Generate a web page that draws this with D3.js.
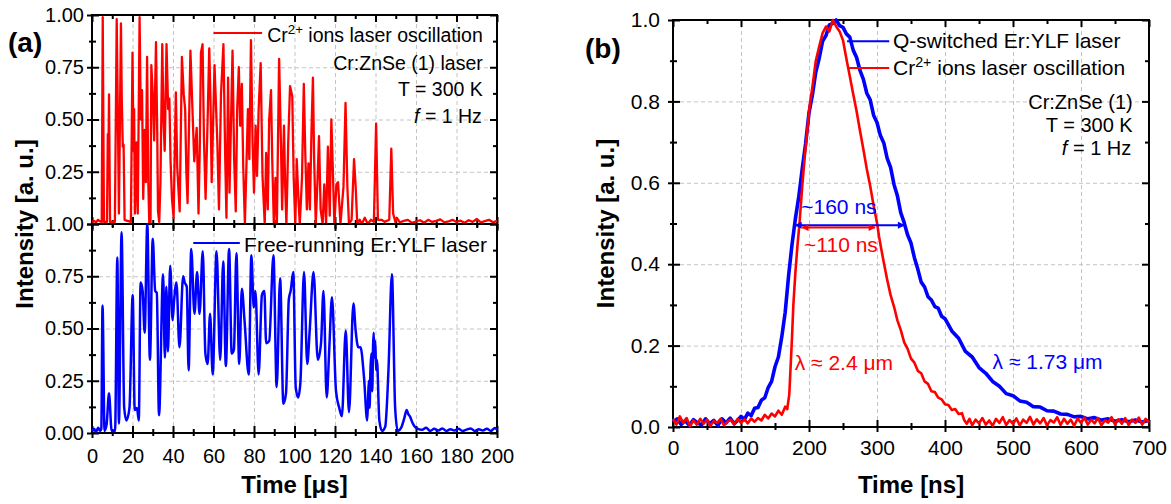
<!DOCTYPE html>
<html>
<head>
<meta charset="utf-8">
<script src="https://cdn.jsdelivr.net/npm/d3@7"></script>
<style>
  body { margin: 0; background: #fff; }
  text { font-family: "Liberation Sans", Arial, sans-serif; }
  .grid line { stroke: #c4c4c4; stroke-width: 1; stroke-dasharray: 4,3; }
  .grid path { display: none; }
  .ax path { display: none; }
  .ax line { stroke: #000; stroke-width: 2; }
  .ax text { fill: #000; font-family: "Liberation Sans", Arial, sans-serif; }
  .pa .ax text { font-size: 20px; }
  .pb .ax text { font-size: 21px; }
</style>
</head>
<body>
<svg id="chart" width="1171" height="504"></svg>
<script>
// ---- data ----
// (a) top: Cr2+ laser oscillation, time [us] / intensity
var crOsc = [[0,0.01],[1,0.015],[2,0.008],[3,0.02],[4,0.012],[4.8,0.01],[5.3,0.99],[5.9,0.01],[7.4,0.01],[7.8,0.43],[8.1,0.3],[8.4,0.62],[8.9,0.01],
  [11.3,0.01],[12.2,0.98],[12.8,0.5],[13.3,0.05],[14.3,0.96],[14.7,0.6],[15.2,0.37],[15.6,0.38],[16.1,0.02],[17.5,0.015],[19.2,0.01],
  [20.0,0.82],[20.5,0.35],[20.8,0.55],[21.2,0.05],[22.0,0.39],[22.6,0.05],[23.5,0.99],[24.1,0.5],[24.7,0.64],[25.3,0.12],[26.0,0.45],
  [26.6,0.2],[27.2,0.8],[27.8,0.2],[28.3,0.0],[28.9,0.0],[29.3,0.76],[30.1,0.6],[30.7,0.4],[31.6,0.87],[32.2,0.45],[32.6,0.06],[33.2,0.01],
  [33.8,0.2],[34.7,0.86],[35.3,0.5],[35.9,0.35],[36.8,0.86],[37.6,0.55],[38.2,0.6],[38.8,0.3],[39.5,0.12],[40.3,0.03],[41.4,0.63],[42.1,0.27],
  [43.3,0.06],[44.4,0.8],[45.3,0.62],[46.0,0.55],[46.6,0.25],[47.2,0.1],[48.6,0.83],[49.6,0.55],[50.5,0.3],[51.7,0.46],[52.6,0.05],[53.2,0.35],
  [53.8,0.82],[54.6,0.86],[55.3,0.4],[56.1,0.12],[57.1,0.5],[57.9,0.84],[58.5,0.6],[59.1,0.2],[60.5,0.76],[61.9,0.39],[62.7,0.07],[63.7,0.62],
  [64.9,0.86],[65.8,0.31],[66.4,0.03],[67.2,0.7],[67.9,0.15],[69.4,0.83],[70.2,0.31],[71.0,0.06],[71.7,0.55],[72.5,0.75],[73.2,0.47],[74.0,0.67],
  [74.7,0.27],[75.5,0.0],[77.0,0.55],[77.7,0.31],[78.5,0.88],[79.3,0.39],[80.0,0.15],[80.8,0.47],[81.5,0.23],[82.3,0.55],[83.3,0.77],[84.2,0.23],
  [85.3,0.0],[86.0,0.34],[86.8,0.07],[87.5,0.5],[88.4,0.64],[89.0,0.31],[89.8,0.0],[90.6,0.22],[91.3,0.0],[92.4,0.79],[93.3,0.39],[93.9,0.07],
  [94.8,0.47],[95.4,0.18],[96.0,0.0],[96.9,0.39],[97.8,0.66],[98.9,0.61],[99.6,0.22],[100.4,0.0],[101.1,0.31],[101.9,0.13],[102.6,0.0],
  [103.7,0.22],[104.6,0.67],[105.3,0.35],[106.1,0.07],[106.9,0.29],[107.6,0.07],[108.4,0.45],[109.1,0.7],[109.7,0.31],[110.5,0.0],[111.4,0.22],
  [112.1,0.42],[112.9,0.07],[113.9,0.0],[114.7,0.19],[115.6,0.0],[116.5,0.37],[117.4,0.04],[118.2,0.5],[118.9,0.27],[119.7,0.0],[120.7,0.19],
  [121.5,0.2],[122.7,0.0],[124.2,0.18],[125.2,0.58],[126.1,0.18],[126.9,0.0],[128.2,0.02],[129.4,0.31],[130.2,0.18],[131.0,0.0],[132.2,0.02],
  [133.2,0.0],[134.7,0.03],[136.2,0.0],[137.7,0.02],[139.2,0.01],[140.3,0.48],[141.2,0.02],[143.0,0.02],[144.5,0.01],[146.8,0.02],[147.8,0.36],
  [148.7,0.05],[149.8,0.01],[150.5,0.03],[152,0.008],[154,0.015],[156,0.02],[158,0.005],[160,0.012],[162,0.018],[164,0.006],[166,0.02],
  [168,0.01],[170,0.015],[172,0.022],[174,0.008],[176,0.012],[178,0.02],[180,0.01],[182,0.016],[184,0.006],[186,0.018],[188,0.01],
  [190,0.024],[192,0.008],[194,0.014],[196,0.02],[198,0.008],[200,0.015]];

// (a) bottom: free-running Er:YLF laser
var erFree = [[0,0.01],[1,0.02],[2,0.005],[3,0.025],[4,0.01],[4.6,0.02],[5.2,0.61],[6.2,0.01],[7.2,0.04],[8.4,0.19],[9.7,0.01],[11.4,0.01],
  [12.5,0.84],[13.3,0.045],[14.6,0.96],[15.9,0.12],[17.0,0.06],[18.5,0.12],[20.1,0.66],[21.1,0.11],[22.2,0.12],[23.1,0.06],[24.0,0.72],
  [25.0,0.68],[26.0,0.48],[27.3,1.0],[28.6,0.35],[30.0,0.93],[31.2,0.68],[32.0,0.67],[33.1,0.085],[35.1,0.76],[36.0,0.36],[36.7,0.7],
  [37.5,0.39],[38.6,0.8],[39.8,0.54],[40.6,0.64],[41.7,0.72],[43.2,0.41],[45.0,0.75],[45.8,0.72],[46.8,0.7],[47.7,0.3],[49.0,0.88],[50.6,0.57],
  [51.9,0.77],[53.1,0.57],[54.7,0.87],[56.0,0.38],[57.1,0.33],[58.3,0.57],[59.6,0.28],[61.5,0.87],[63.3,0.35],[64.8,0.82],[66.1,0.32],
  [67.7,0.88],[69.0,0.38],[70.1,0.4],[71.3,0.86],[72.7,0.33],[74.0,0.69],[75.3,0.54],[77.4,0.28],[78.7,0.85],[79.9,0.6],[80.7,0.68],[82.3,0.28],
  [83.9,0.66],[85.1,0.68],[86.0,0.43],[87.5,0.44],[89.6,0.85],[91.2,0.22],[92.9,0.74],[94.5,0.14],[95.8,0.19],[97.2,0.64],[98.1,0.68],
  [99.4,0.77],[100.6,0.22],[101.8,0.17],[102.9,0.24],[104.7,0.77],[106.3,0.33],[107.5,0.49],[109.4,0.77],[111.5,0.35],[113.1,0.43],
  [114.3,0.68],[115.9,0.17],[117.2,0.41],[118.5,0.65],[120.5,0.2],[122.1,0.12],[123.4,0.08],[125.3,0.49],[126.9,0.1],[129.1,0.62],[130.2,0.49],
  [131.5,0.41],[132.6,0.41],[134.3,0.27],[135.9,0.06],[136.3,0.15],[136.7,0.25],[137.1,0.12],[137.5,0.3],[138.0,0.38],[138.4,0.2],[138.8,0.42],
  [139.1,0.48],[139.5,0.36],[139.9,0.44],[140.3,0.3],[140.7,0.35],[141.9,0.06],[143.2,0.01],[144.8,0.03],[146.4,0.3],[148.1,0.76],[149.7,0.12],
  [151.0,0.01],[152.9,0.03],[154.2,0.07],[155.4,0.11],[156.2,0.09],[157.0,0.08],[158.2,0.05],[159.4,0.03],[161,0.02],[163,0.015],[165,0.025],
  [167,0.01],[169,0.02],[171,0.012],[173,0.022],[175,0.01],[177,0.018],[179,0.012],[181,0.02],[183,0.01],[185,0.016],[187,0.022],[189,0.01],
  [191,0.018],[193,0.012],[195,0.02],[197,0.01],[199,0.024],[200,0.015]];

// (b) Q-switched Er:YLF pulse, time [ns] / intensity
var qsPulse = [[0,0.012],[6,0.02],[12,0.006],[18,0.016],[24,0.004],[30,0.018],[36,0.01],[42,0.005],[48,0.02],[54,0.008],[60,0.016],[66,0.004],
  [72,0.02],[78,0.01],[84,0.022],[90,0.008],[96,0.018],[100,0.026],[105,0.018],[110,0.034],[115,0.028],[120,0.046],[125,0.048],[130,0.066],
  [135,0.072],[140,0.097],[145,0.112],[150,0.148],[155,0.172],[160,0.222],[165,0.282],[170,0.372],[175,0.448],[180,0.512],[185,0.566],
  [190,0.634],[195,0.696],[200,0.772],[205,0.816],[210,0.872],[215,0.906],[220,0.948],[225,0.962],[230,0.988],[235,0.992],[240,1.0],
  [245,0.986],[250,0.982],[255,0.966],[260,0.958],[265,0.926],[270,0.908],[275,0.876],[280,0.854],[285,0.82],[290,0.804],[295,0.766],
  [300,0.748],[305,0.716],[310,0.698],[315,0.66],[320,0.638],[325,0.596],[330,0.568],[335,0.526],[340,0.502],[345,0.472],[350,0.452],
  [355,0.416],[360,0.388],[365,0.356],[370,0.344],[375,0.32],[380,0.312],[385,0.296],[390,0.292],[395,0.272],[400,0.266],[410,0.236],
  [420,0.218],[430,0.186],[440,0.172],[450,0.146],[460,0.132],[470,0.112],[480,0.1],[490,0.082],[500,0.077],[510,0.064],[520,0.061],
  [530,0.05],[540,0.049],[550,0.04],[560,0.039],[570,0.032],[580,0.031],[590,0.025],[600,0.026],[610,0.02],[620,0.023],[630,0.017],
  [640,0.02],[650,0.014],[660,0.018],[670,0.013],[680,0.017],[690,0.012],[700,0.016]];

// (b) Cr2+ laser pulse
var crPulse = [[0,0.02],[5,0.006],[10,0.026],[15,0.01],[20,0.022],[25,0.002],[30,0.016],[35,0.006],[40,0.02],[45,0.008],[50,0.018],[55,0.003],
  [60,0.015],[65,0.01],[70,0.02],[75,0.004],[80,0.013],[85,0.018],[90,0.006],[95,0.02],[100,0.01],[105,0.019],[110,0.009],[115,0.021],
  [120,0.013],[125,0.022],[130,0.016],[135,0.03],[140,0.021],[145,0.033],[150,0.026],[155,0.04],[160,0.03],[165,0.05],[168,0.044],[171,0.08],
  [173,0.15],[175,0.22],[177,0.3],[180,0.38],[183,0.445],[186,0.5],[190,0.59],[193,0.65],[197,0.72],[201,0.79],[205,0.835],[210,0.9],
  [215,0.935],[220,0.968],[225,0.984],[230,0.972],[235,1.0],[240,0.984],[245,0.972],[250,0.95],[255,0.905],[260,0.862],[265,0.818],
  [270,0.776],[275,0.728],[280,0.682],[285,0.634],[290,0.592],[295,0.544],[300,0.502],[303,0.468],[306,0.44],[310,0.404],[315,0.362],
  [320,0.324],[325,0.296],[330,0.262],[335,0.238],[340,0.208],[345,0.192],[350,0.168],[355,0.158],[360,0.138],[365,0.132],[370,0.112],
  [375,0.106],[380,0.088],[385,0.086],[390,0.072],[395,0.068],[400,0.056],[405,0.054],[410,0.042],[415,0.044],[420,0.032],[425,0.034],
  [428,0.018],[432,0.008],[436,0.02],[440,0.004],[445,0.018],[450,0.009],[455,0.022],[460,0.006],[465,0.016],[470,0.003],[475,0.02],
  [480,0.01],[485,0.024],[490,0.005],[495,0.017],[500,0.008],[505,0.021],[510,0.004],[515,0.018],[520,0.01],[525,0.025],[530,0.006],
  [535,0.019],[540,0.009],[545,0.022],[550,0.004],[555,0.017],[560,0.011],[565,0.024],[570,0.005],[575,0.02],[580,0.008],[585,0.018],
  [590,0.003],[595,0.021],[600,0.01],[605,0.023],[610,0.006],[615,0.018],[620,0.009],[625,0.022],[630,0.004],[635,0.016],[640,0.011],
  [645,0.024],[650,0.006],[655,0.019],[660,0.008],[665,0.022],[670,0.005],[675,0.018],[680,0.01],[685,0.023],[690,0.006],[695,0.02],[700,0.012]];

// ticks
var xMajorA = [0,20,40,60,80,100,120,140,160,180,200];
var xMinorA = [10,30,50,70,90,110,130,150,170,190];
var yMajorA = [0,0.25,0.5,0.75,1];
var yMinorA = [0.125,0.375,0.625,0.875];
var xMajorB = [0,100,200,300,400,500,600,700];
var xMinorB = [50,150,250,350,450,550,650];
var yMajorB = [0,0.2,0.4,0.6,0.8,1];
var yMinorB = [0.1,0.3,0.5,0.7,0.9];

// pulse widths (ns) marked in panel b
var fwhmQs = [180, 340], fwhmCr = [190, 297];

var red = "#ff0000", blue = "#0000ff";
var svg = d3.select("#chart");

// arrow heads
var defs = svg.append("defs");
[["arB", blue], ["arR", red]].forEach(function(a) {
  defs.append("marker").attr("id", a[0]).attr("viewBox", "0 0 10 10")
    .attr("refX", 9).attr("refY", 5).attr("markerWidth", 9).attr("markerHeight", 7)
    .attr("markerUnits", "userSpaceOnUse").attr("orient", "auto-start-reverse")
    .append("path").attr("d", "M0,0 L10,5 L0,10 z").attr("fill", a[1]);
});

function frame(g, x, y, o) {
  var w = x.range()[1], h = y.range()[0];
  var xd = x.domain(), yd = y.domain();
  var xIn = o.xMajor.filter(function(v) { return v > xd[0] && v < xd[1]; });
  var yIn = o.yMajor.filter(function(v) { return v > yd[0] && v < yd[1]; });
  g.append("g").attr("class", "grid").attr("transform", "translate(0," + h + ")")
    .call(d3.axisBottom(x).tickValues(xIn).tickSize(-h).tickFormat(""));
  g.append("g").attr("class", "grid")
    .call(d3.axisLeft(y).tickValues(yIn).tickSize(-w).tickFormat(""));

  function put(axis, tx, ty) {
    g.append("g").attr("class", "ax").attr("transform", "translate(" + tx + "," + ty + ")").call(axis);
  }
  // bottom: labels + in/out ticks
  put(d3.axisBottom(x).tickValues(o.xMajor).tickSize(5).tickPadding(o.xPad)
      .tickFormat(o.xLabels ? d3.format("d") : ""), 0, h);
  put(d3.axisBottom(x).tickValues(o.xMajor).tickSize(-7).tickFormat(""), 0, h);
  put(d3.axisBottom(x).tickValues(o.xMinor).tickSize(3).tickFormat(""), 0, h);
  put(d3.axisBottom(x).tickValues(o.xMinor).tickSize(-4).tickFormat(""), 0, h);
  // top: inward only
  put(d3.axisTop(x).tickValues(o.xMajor).tickSize(-7).tickFormat(""), 0, 0);
  put(d3.axisTop(x).tickValues(o.xMinor).tickSize(-4).tickFormat(""), 0, 0);
  // left
  put(d3.axisLeft(y).tickValues(o.yMajor).tickSize(5).tickPadding(o.yPad).tickFormat(o.yFmt), 0, 0);
  put(d3.axisLeft(y).tickValues(o.yMajor).tickSize(-7).tickFormat(""), 0, 0);
  put(d3.axisLeft(y).tickValues(o.yMinor).tickSize(3).tickFormat(""), 0, 0);
  put(d3.axisLeft(y).tickValues(o.yMinor).tickSize(-4).tickFormat(""), 0, 0);
  // right: inward only
  put(d3.axisRight(y).tickValues(o.yMajor).tickSize(-7).tickFormat(""), w, 0);
  put(d3.axisRight(y).tickValues(o.yMinor).tickSize(-4).tickFormat(""), w, 0);

  g.append("rect").attr("width", w).attr("height", h)
    .attr("fill", "none").attr("stroke", "#000").attr("stroke-width", 2);
}

function addText(g, x, y, str, opt) {
  opt = opt || {};
  return g.append("text").attr("x", x).attr("y", y)
    .attr("text-anchor", opt.anchor || "start")
    .attr("font-size", opt.size || 20)
    .attr("font-weight", opt.weight || "normal")
    .attr("fill", opt.fill || "#000")
    .text(str);
}

function crLabel(g, x, y, size, anchor) {
  var t = addText(g, x, y, "Cr", { size: size, anchor: anchor });
  t.append("tspan").attr("dy", -8).attr("font-size", size * 0.68).text("2+");
  t.append("tspan").attr("dy", 8).text(" ions laser oscillation");
  return t;
}

function fLabel(g, x, y, size) {
  var t = addText(g, x, y, "", { size: size, anchor: "end" });
  t.append("tspan").attr("font-style", "italic").text("f");
  t.append("tspan").text(" = 1 Hz");
}

// ---------------- panel (a) ----------------
var aL = 92, aR = 497, aTop = 15, aMid = 224, aBot = 433;
var xA = d3.scaleLinear().domain([0, 200]).range([0, aR - aL]);
var yA = d3.scaleLinear().domain([0, 1]).range([aMid - aTop, 0]);
var f2 = d3.format(".2f");

var pa = svg.append("g").attr("class", "pa");
var gTop = pa.append("g").attr("transform", "translate(" + aL + "," + aTop + ")");
var gBot = pa.append("g").attr("transform", "translate(" + aL + "," + aMid + ")");

frame(gBot, xA, yA, { xMajor: xMajorA, xMinor: xMinorA, yMajor: yMajorA, yMinor: yMinorA,
  xLabels: true, xPad: 11, yPad: 3, yFmt: f2 });
frame(gTop, xA, yA, { xMajor: xMajorA, xMinor: xMinorA, yMajor: yMajorA, yMinor: yMinorA,
  xLabels: false, xPad: 11, yPad: 3, yFmt: function(d) { return d === 0 ? "" : f2(d); } });

var lineA = d3.line().x(function(d) { return xA(d[0]); }).y(function(d) { return yA(d[1]); });

gBot.append("path").datum(erFree).attr("d", lineA.curve(d3.curveMonotoneX))
  .attr("fill", "none").attr("stroke", blue).attr("stroke-width", 2.5).attr("stroke-linejoin", "round");
gTop.append("path").datum(crOsc).attr("d", lineA.curve(d3.curveLinear))
  .attr("fill", "none").attr("stroke", red).attr("stroke-width", 2.3).attr("stroke-linejoin", "round");

// legends / notes (a)
gTop.append("line").attr("x1", xA(60)).attr("x2", xA(84)).attr("y1", yA(0.914)).attr("y2", yA(0.914))
  .attr("stroke", red).attr("stroke-width", 2);
crLabel(gTop, xA(193), yA(0.871), 19.5, "end");
addText(gTop, xA(193), yA(0.737), "Cr:ZnSe (1) laser", { anchor: "end", size: 19.5 });
addText(gTop, xA(193), yA(0.612), "T = 300 K", { anchor: "end", size: 19.5 });
fLabel(gTop, xA(192.5), yA(0.483), 19.5);

gBot.append("line").attr("x1", xA(50)).attr("x2", xA(73)).attr("y1", yA(0.909)).attr("y2", yA(0.909))
  .attr("stroke", blue).attr("stroke-width", 2);
addText(gBot, xA(195), yA(0.866), "Free-running Er:YLF laser", { anchor: "end", size: 21 });

// titles (a)
addText(svg, 8, 52, "(a)", { size: 28, weight: "bold" });
addText(svg, (aL + aR) / 2, 493, "Time [\u03bcs]", { size: 24, weight: "bold", anchor: "middle" });
addText(svg, 0, 0, "Intensity [a. u.]", { size: 24, weight: "bold", anchor: "middle" })
  .attr("transform", "translate(33," + aMid + ") rotate(-90)");

// ---------------- panel (b) ----------------
var bL = 673, bR = 1149, bTop = 20, bBot = 427;
var xB = d3.scaleLinear().domain([0, 700]).range([0, bR - bL]);
var yB = d3.scaleLinear().domain([0, 1]).range([bBot - bTop, 0]);
var pb = svg.append("g").attr("class", "pb");
var gB = pb.append("g").attr("transform", "translate(" + bL + "," + bTop + ")");

frame(gB, xB, yB, { xMajor: xMajorB, xMinor: xMinorB, yMajor: yMajorB, yMinor: yMinorB,
  xLabels: true, xPad: 8, yPad: 8, yFmt: d3.format(".1f") });

var lineB = d3.line().x(function(d) { return xB(d[0]); }).y(function(d) { return yB(d[1]); });
gB.append("path").datum(qsPulse).attr("d", lineB)
  .attr("fill", "none").attr("stroke", blue).attr("stroke-width", 3.6).attr("stroke-linejoin", "round");
gB.append("path").datum(crPulse).attr("d", lineB)
  .attr("fill", "none").attr("stroke", red).attr("stroke-width", 2.6).attr("stroke-linejoin", "round");

// width arrows
gB.append("line").attr("x1", xB(fwhmQs[0])).attr("x2", xB(fwhmQs[1])).attr("y1", yB(0.496)).attr("y2", yB(0.496))
  .attr("stroke", blue).attr("stroke-width", 2).attr("marker-start", "url(#arB)").attr("marker-end", "url(#arB)");
gB.append("line").attr("x1", xB(fwhmCr[0])).attr("x2", xB(fwhmCr[1])).attr("y1", yB(0.49)).attr("y2", yB(0.49))
  .attr("stroke", red).attr("stroke-width", 2).attr("marker-start", "url(#arR)").attr("marker-end", "url(#arR)");
addText(gB, xB(244), yB(0.523), "~160 ns", { anchor: "middle", fill: blue, size: 21 });
addText(gB, xB(247), yB(0.43), "~110 ns", { anchor: "middle", fill: red, size: 21 });
addText(gB, xB(179), yB(0.14), "\u03bb \u2248 2.4 \u03bcm", { fill: red, size: 21 });
addText(gB, xB(470), yB(0.143), "\u03bb \u2248 1.73 \u03bcm", { fill: blue, size: 21 });

// legend (b)
gB.append("line").attr("x1", xB(256)).attr("x2", xB(318)).attr("y1", yB(0.948)).attr("y2", yB(0.948))
  .attr("stroke", blue).attr("stroke-width", 2);
gB.append("line").attr("x1", xB(256)).attr("x2", xB(318)).attr("y1", yB(0.882)).attr("y2", yB(0.882))
  .attr("stroke", red).attr("stroke-width", 2);
addText(gB, xB(323.5), yB(0.931), "Q-switched Er:YLF laser", { size: 21 });
crLabel(gB, xB(323.5), yB(0.865), 21, "start");
addText(gB, xB(676), yB(0.781), "Cr:ZnSe (1)", { anchor: "end", size: 20 });
addText(gB, xB(676), yB(0.725), "T = 300 K", { anchor: "end", size: 20 });
fLabel(gB, xB(674), yB(0.668), 20);

// titles (b)
addText(svg, 585, 58, "(b)", { size: 28, weight: "bold" });
addText(svg, (bL + bR) / 2, 493, "Time [ns]", { size: 24, weight: "bold", anchor: "middle" });
addText(svg, 0, 0, "Intensity [a. u.]", { size: 24, weight: "bold", anchor: "middle" })
  .attr("transform", "translate(614," + ((bTop + bBot) / 2) + ") rotate(-90)");
</script>
</body>
</html>
